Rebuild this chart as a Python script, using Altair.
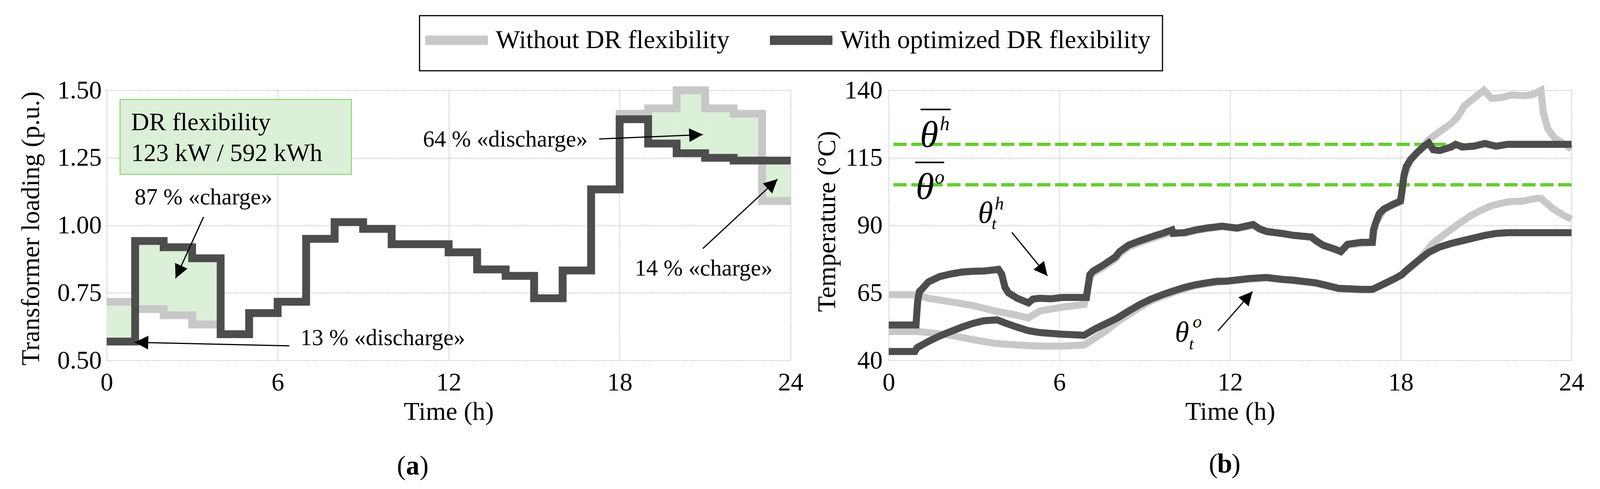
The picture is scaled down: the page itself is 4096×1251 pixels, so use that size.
import math
import altair as alt
import pandas as pd

FONT = "Liberation Serif"
GRAY = "#c8c8c8"
DARK = "#4d4d4d"
FILL = "#dcefd8"
BOXLINE = "#86d86a"
GREEN = "#66cc33"
GRID = "#a9a9a9"

S_WITHOUT = "Without DR flexibility"
S_WITH = "With optimized DR flexibility"

W1, W2, H = 1751, 1748, 691

# ---------------- data ----------------
hours = list(range(24))
load_without = [0.717, 0.690, 0.667, 0.633, 0.597, 0.675, 0.717, 0.950, 1.012, 0.987, 0.930, 0.930,
                0.900, 0.837, 0.813, 0.730, 0.833, 1.133, 1.413, 1.433, 1.500, 1.433, 1.413, 1.090]
load_with = [0.570, 0.942, 0.919, 0.878, 0.597, 0.675, 0.717, 0.950, 1.012, 0.987, 0.930, 0.930,
             0.900, 0.837, 0.813, 0.730, 0.833, 1.133, 1.393, 1.303, 1.267, 1.250, 1.240, 1.240]

# (time h, temperature C)
hot_with = [(0, 53.1), (0.96, 53.1), (1.02, 62.0), (1.08, 65.5), (1.16, 66.3), (1.39, 69.0), (1.78, 71.0),
            (2.18, 72.0), (2.57, 72.7), (2.96, 73.0), (3.35, 73.1), (3.86, 73.7), (3.97, 72.0), (4.09, 67.0),
            (4.21, 65.0), (4.52, 63.0), (4.91, 61.3), (5.07, 62.7), (5.31, 63.0), (5.70, 62.8), (6.09, 63.3),
            (6.95, 63.3), (7.07, 71.7), (7.18, 73.0), (7.50, 75.0), (7.97, 78.3), (8.12, 80.3), (8.44, 82.7),
            (8.83, 84.3), (9.22, 85.7), (9.61, 87.0), (9.96, 88.3), (10.0, 87.0), (10.39, 87.3), (10.78, 88.3),
            (11.17, 89.0), (11.72, 89.7), (12.25, 89.0), (12.81, 90.3), (13.04, 88.7), (13.28, 87.7),
            (13.84, 87.0), (14.23, 86.3), (14.86, 85.7), (15.02, 84.3), (15.26, 82.7), (15.66, 81.3),
            (15.89, 80.3), (16.13, 83.0), (16.6, 83.7), (17.0, 83.7), (17.04, 88.3), (17.12, 91.0),
            (17.24, 94.3), (17.4, 96.0), (17.71, 97.7), (17.99, 99.0), (18.03, 101.7), (18.11, 108.3),
            (18.19, 111.7), (18.34, 114.3), (18.58, 117.0), (18.82, 119.3), (18.98, 120.5), (19.14, 118.0),
            (19.37, 117.7), (19.77, 119.0), (19.93, 120.0), (20.16, 119.0), (20.56, 119.3), (20.96, 120.3),
            (21.35, 119.3), (21.75, 120.0), (24.0, 120.0)]
hot_without = [(0, 64.3), (1.0, 64.3), (1.39, 63.0), (2.18, 61.7), (2.96, 60.3), (3.74, 58.3), (4.52, 56.7),
               (4.91, 55.7), (5.31, 58.3), (6.09, 59.7), (6.87, 60.7), (7.07, 70.5), (7.18, 72.2), (7.50, 74.2),
               (7.97, 77.5), (8.12, 79.5), (8.44, 82.0), (8.83, 83.6), (9.22, 85.0), (9.61, 86.4), (9.96, 87.6),
               (10.39, 87.0), (10.78, 88.0), (11.17, 88.7), (11.72, 89.5), (12.25, 88.8), (12.81, 90.0),
               (13.04, 88.5), (13.84, 86.8), (14.86, 85.5), (15.26, 82.6), (15.89, 80.2), (16.13, 82.8),
               (17.0, 83.6), (17.12, 90.8), (17.4, 95.8), (17.99, 98.8), (18.11, 108.0), (18.34, 114.2),
               (18.58, 117.0), (18.82, 119.5), (18.98, 121.7), (19.37, 124.7), (19.77, 127.7), (20.01, 130.3),
               (20.24, 134.3), (20.56, 137.0), (20.92, 140.0), (21.19, 137.0), (21.51, 137.3), (21.9, 138.3),
               (22.3, 138.0), (22.62, 138.3), (22.93, 140.0), (23.01, 131.7), (23.17, 125.7), (23.41, 122.3),
               (23.72, 120.3), (24.0, 118.3)]
oil_with = [(0, 43.3), (0.92, 43.3), (1.0, 44.7), (1.39, 47.0), (1.78, 49.0), (2.18, 50.7), (2.57, 52.3),
            (2.96, 53.7), (3.35, 54.7), (3.82, 55.0), (4.13, 53.7), (4.52, 52.3), (4.91, 51.0), (5.31, 50.3),
            (6.09, 49.7), (6.87, 49.3), (7.26, 51.7), (7.65, 53.7), (8.04, 55.7), (8.44, 58.3), (8.83, 60.7),
            (9.22, 62.7), (9.61, 64.3), (10.0, 65.7), (10.39, 67.0), (10.78, 68.0), (11.17, 68.7), (11.56, 69.3),
            (11.86, 69.3), (12.65, 70.3), (13.28, 70.7), (13.84, 70.0), (14.23, 69.7), (15.02, 68.7),
            (15.42, 67.7), (15.81, 66.7), (16.6, 66.3), (17.0, 66.3), (17.4, 68.3), (17.79, 70.3), (18.03, 71.7),
            (18.19, 73.3), (18.58, 76.7), (18.98, 80.0), (19.37, 82.0), (19.77, 83.3), (20.16, 84.3),
            (20.56, 85.3), (20.96, 86.3), (21.35, 87.0), (21.75, 87.3), (24.0, 87.3)]
oil_without = [(0, 50.7), (1.0, 50.7), (1.39, 50.3), (2.18, 49.3), (2.96, 47.7), (3.74, 46.3), (4.52, 45.7),
               (5.31, 45.3), (6.09, 45.3), (6.87, 45.7), (7.26, 48.3), (7.65, 51.0), (8.04, 54.3), (8.44, 57.0),
               (8.83, 59.7), (9.22, 62.0), (9.61, 63.7), (10.0, 65.1), (10.78, 67.7), (11.56, 69.0), (12.65, 70.0),
               (13.28, 70.5), (14.23, 69.5), (15.02, 68.5), (15.81, 66.5), (16.6, 66.1), (17.0, 66.1),
               (17.4, 68.1), (18.03, 71.5), (18.58, 76.5), (18.98, 81.5), (19.14, 83.5), (19.6, 87.2),
               (20.0, 90.3), (20.4, 93.2), (20.8, 95.5), (21.19, 97.3), (21.75, 98.7), (22.3, 99.0),
               (22.77, 100.0), (22.93, 100.0), (23.33, 96.3), (23.72, 93.7), (24.0, 92.3)]

x_ticks = [0, 6, 12, 18, 24]
load_ticks = [0.5, 0.75, 1.0, 1.25, 1.5]
temp_ticks = [40, 65, 90, 115, 140]
temp_limits = [120, 105]

# annotations (data coordinates)
flex_box = [(0.47, 8.59, 1.189, 1.466)]
box_text = [("DR flexibility", 0.86, 1.352), ("123 kW / 592 kWh", 0.86, 1.238)]
notes_left = [("87 % «charge»", 0.98, 1.078), ("13 % «discharge»", 6.80, 0.557),
              ("64 % «discharge»", 11.10, 1.292), ("14 % «charge»", 18.53, 0.814)]
arrows_left = [(3.40, 1.031, 2.42, 0.804), (6.41, 0.554, 0.98, 0.567),
               (17.28, 1.320, 20.92, 1.336), (20.92, 0.914, 23.54, 1.171)]
theta_main = [("θ", 1.10, 119.0, 96), ("θ", 0.95, 99.8, 96), ("θ", 3.14, 91.0, 78), ("θ", 10.06, 46.9, 74)]
theta_scripts = [("h", 1.80, 125.2, 50), ("o", 1.62, 105.6, 50), ("h", 3.73, 95.8, 46),
                 ("t", 3.62, 88.6, 42), ("o", 10.69, 52.2, 46), ("t", 10.56, 44.0, 42)]
overbars = [(1.12, 2.18, 132.9), (0.93, 1.95, 113.3)]
arrows_right = [(4.33, 87.4, 5.58, 71.3), (11.57, 50.9, 12.79, 65.5)]
panel_left = ("a", 10.74, 0.077)
panel_right = ("b", 11.81, -1.5)
paren_dx = 0.40

HEAD = "M0,0L-0.5,1L0.5,1Z"

# ---------------- scales / axes ----------------
xs1 = alt.Scale(domain=[0, 24], nice=False, zero=False)
xs2 = alt.Scale(domain=[0, 24], nice=False, zero=False)
ys1 = alt.Scale(domain=[0.5, 1.5], nice=False, zero=False)
ys2 = alt.Scale(domain=[40, 140], nice=False, zero=False)


def x_axis():
    return alt.Axis(values=x_ticks, title="Time (h)", labelPadding=25, labelFlush=False,
                    labelOverlap=False, titleY=151, titleBaseline="alphabetic")


def y1_axis():
    return alt.Axis(values=load_ticks, format=".2f", title="Transformer loading (p.u.)",
                    labelPadding=13, labelOverlap=False, titleAngle=270, titleX=-174, titleY=353,
                    titleBaseline="alphabetic")


def y2_axis():
    return alt.Axis(values=temp_ticks, format="d", title="Temperature (°C)",
                    labelPadding=16, labelOverlap=False, titleAngle=270, titleX=-138, titleY=335,
                    titleBaseline="alphabetic")


legend = alt.Legend(title=None, orient="none", legendX=801, legendY=-191, direction="horizontal",
                    symbolType="M-2.4,0H5.6", symbolSize=1600, symbolStrokeWidth=24,
                    labelFont=FONT, labelFontSize=66, labelColor="black", labelLimit=3000,
                    labelOffset=99, columnPadding=55, padding=30,
                    strokeColor="black", fillColor="white")
color_enc = alt.Color("series:N", scale=alt.Scale(domain=[S_WITHOUT, S_WITH], range=[GRAY, DARK]),
                      legend=legend)


def head_angle(dx, dy):
    return math.degrees(math.atan2(dx, -dy)) % 360


# ---------------- left panel ----------------
def step_df(vals, series):
    return pd.DataFrame({"t": list(range(25)), "v": vals + [vals[-1]], "series": series})


fill_df = pd.DataFrame({"t0": hours, "t1": [h + 1 for h in hours],
                        "lo": [min(a, b) for a, b in zip(load_without, load_with)],
                        "hi": [max(a, b) for a, b in zip(load_without, load_with)]})

X1 = lambda f: alt.X(f, scale=xs1, axis=x_axis())
Y1 = lambda f: alt.Y(f, scale=ys1, axis=y1_axis())

fill_layer = alt.Chart(fill_df).mark_rect(color=FILL).encode(
    x=X1("t0:Q"), x2="t1:Q", y=Y1("lo:Q"), y2="hi:Q")

gray_step = alt.Chart(step_df(load_without, S_WITHOUT)).mark_line(
    interpolate="step-after", strokeWidth=20, strokeJoin="miter").encode(
    x=X1("t:Q"), y=Y1("v:Q"), color=color_enc)
dark_step = alt.Chart(step_df(load_with, S_WITH)).mark_line(
    interpolate="step-after", strokeWidth=20, strokeJoin="miter").encode(
    x=X1("t:Q"), y=Y1("v:Q"), color=color_enc)

box_df = pd.DataFrame(flex_box, columns=["t0", "t1", "v0", "v1"])
box_layer = alt.Chart(box_df).mark_rect(fill=FILL, stroke=BOXLINE, strokeWidth=2.5).encode(
    x=X1("t0:Q"), x2="t1:Q", y=Y1("v0:Q"), y2="v1:Q")

box_txt_df = pd.DataFrame(box_text, columns=["label", "t", "v"])
box_txt = alt.Chart(box_txt_df).mark_text(align="left", baseline="alphabetic", font=FONT,
                                          fontSize=64, color="black").encode(
    x=X1("t:Q"), y=Y1("v:Q"), text="label:N")

notes_df = pd.DataFrame(notes_left, columns=["label", "t", "v"])
notes_txt = alt.Chart(notes_df).mark_text(align="left", baseline="alphabetic", font=FONT,
                                          fontSize=59, color="black").encode(
    x=X1("t:Q"), y=Y1("v:Q"), text="label:N")

al_df = pd.DataFrame(arrows_left, columns=["t1", "v1", "t2", "v2"])
al_df["ang"] = [head_angle((r.t2 - r.t1) * W1 / 24, -(r.v2 - r.v1) * H / 1.0) for r in al_df.itertuples()]
arrow_l = alt.Chart(al_df).mark_rule(strokeWidth=3, color="black").encode(
    x=X1("t1:Q"), y=Y1("v1:Q"), x2="t2:Q", y2="v2:Q")
head_l = alt.Chart(al_df).mark_point(shape=HEAD, filled=True, size=4900, color="black", opacity=1).encode(
    x=X1("t2:Q"), y=Y1("v2:Q"), angle=alt.Angle("ang:Q", scale=None))

pa_df = pd.DataFrame({"label": ["(", ")"], "t": [panel_left[1] - paren_dx, panel_left[1] + paren_dx],
                      "v": [panel_left[2]] * 2})
pa_paren = alt.Chart(pa_df).mark_text(align="center", baseline="alphabetic", font=FONT, fontSize=69,
                                      color="black").encode(x=X1("t:Q"), y=Y1("v:Q"), text="label:N")
pa_letter = alt.Chart(pd.DataFrame({"label": [panel_left[0]], "t": [panel_left[1]], "v": [panel_left[2]]})).mark_text(
    align="center", baseline="alphabetic", font=FONT, fontSize=69, fontWeight="bold", color="black").encode(
    x=X1("t:Q"), y=Y1("v:Q"), text="label:N")

left = alt.layer(fill_layer, gray_step, dark_step, box_layer, box_txt, notes_txt, arrow_l, head_l,
                 pa_paren, pa_letter).properties(width=W1, height=H)

# ---------------- right panel ----------------
X2 = lambda f: alt.X(f, scale=xs2, axis=x_axis())
Y2 = lambda f: alt.Y(f, scale=ys2, axis=y2_axis())


def curve_df(pairs, series, curve):
    return pd.DataFrame({"t": [p[0] for p in pairs], "T": [p[1] for p in pairs],
                         "series": series, "curve": curve})


gray_df = pd.concat([curve_df(hot_without, S_WITHOUT, "hot"), curve_df(oil_without, S_WITHOUT, "oil")])
dark_df = pd.concat([curve_df(hot_with, S_WITH, "hot"), curve_df(oil_with, S_WITH, "oil")])

gray_curves = alt.Chart(gray_df).mark_line(strokeWidth=18, strokeJoin="miter").encode(
    x=X2("t:Q"), y=Y2("T:Q"), color=color_enc, detail="curve:N")
dark_curves = alt.Chart(dark_df).mark_line(strokeWidth=18, strokeJoin="miter").encode(
    x=X2("t:Q"), y=Y2("T:Q"), color=color_enc, detail="curve:N")

limit_layer = alt.Chart(pd.DataFrame({"T": temp_limits})).mark_rule(
    color=GREEN, strokeWidth=8.5, strokeDash=[34, 12]).encode(y=Y2("T:Q"))

th_df = pd.DataFrame(theta_main, columns=["label", "t", "T", "fs"])
th_txt = alt.Chart(th_df).mark_text(align="left", baseline="alphabetic", font=FONT, fontStyle="italic",
                                    color="black").encode(
    x=X2("t:Q"), y=Y2("T:Q"), text="label:N", size=alt.Size("fs:Q", scale=None))
sc_df = pd.DataFrame(theta_scripts, columns=["label", "t", "T", "fs"])
sc_txt = alt.Chart(sc_df).mark_text(align="left", baseline="alphabetic", font=FONT, fontStyle="italic",
                                    color="black").encode(
    x=X2("t:Q"), y=Y2("T:Q"), text="label:N", size=alt.Size("fs:Q", scale=None))

ob_df = pd.DataFrame(overbars, columns=["t1", "t2", "T"])
ob_layer = alt.Chart(ob_df).mark_rule(strokeWidth=4, color="black").encode(
    x=X2("t1:Q"), x2="t2:Q", y=Y2("T:Q"))

ar_df = pd.DataFrame(arrows_right, columns=["t1", "T1", "t2", "T2"])
ar_df["ang"] = [head_angle((r.t2 - r.t1) * W2 / 24, -(r.T2 - r.T1) * H / 100.0) for r in ar_df.itertuples()]
arrow_r = alt.Chart(ar_df).mark_rule(strokeWidth=3, color="black").encode(
    x=X2("t1:Q"), y=Y2("T1:Q"), x2="t2:Q", y2="T2:Q")
head_r = alt.Chart(ar_df).mark_point(shape=HEAD, filled=True, size=4900, color="black", opacity=1).encode(
    x=X2("t2:Q"), y=Y2("T2:Q"), angle=alt.Angle("ang:Q", scale=None))

pb_df = pd.DataFrame({"label": ["(", ")"], "t": [panel_right[1] - paren_dx, panel_right[1] + paren_dx],
                      "T": [panel_right[2]] * 2})
pb_paren = alt.Chart(pb_df).mark_text(align="center", baseline="alphabetic", font=FONT, fontSize=69,
                                      color="black").encode(x=X2("t:Q"), y=Y2("T:Q"), text="label:N")
pb_letter = alt.Chart(pd.DataFrame({"label": [panel_right[0]], "t": [panel_right[1]], "T": [panel_right[2]]})).mark_text(
    align="center", baseline="alphabetic", font=FONT, fontSize=69, fontWeight="bold", color="black").encode(
    x=X2("t:Q"), y=Y2("T:Q"), text="label:N")

right = alt.layer(gray_curves, limit_layer, dark_curves, ob_layer, th_txt, sc_txt, arrow_r, head_r,
                  pb_paren, pb_letter).properties(width=W2, height=H)

chart = alt.hconcat(left, right, spacing=251, bounds="flush").resolve_scale(
    color="shared").resolve_legend(color="shared").properties(
    padding={"left": 37, "top": 30, "right": 0, "bottom": 0},
    background="white"
).configure_view(stroke=None).configure_axis(
    domain=False, ticks=False, tickSize=0, grid=True, gridColor=GRID, gridDash=[3, 2], gridWidth=1.5,
    labelFont=FONT, labelFontSize=65, labelColor="black",
    titleFont=FONT, titleFontSize=66, titleFontWeight="normal", titleColor="black"
).configure_legend(strokeWidth=3)

chart.save("out.html", embed_options={"renderer": "svg", "actions": False})
